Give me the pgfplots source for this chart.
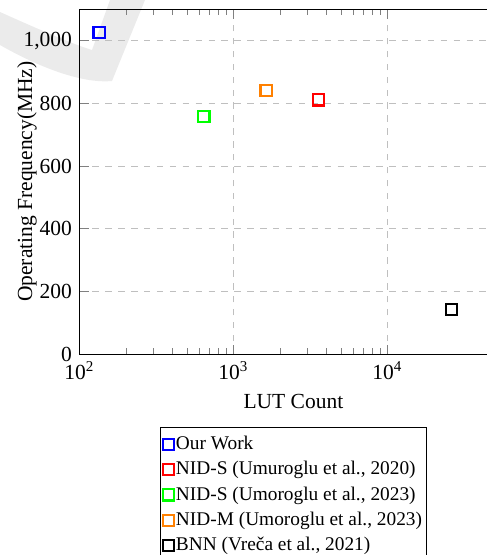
\documentclass[border=0pt]{standalone}
\usepackage{fontspec}
\setmainfont{Liberation Serif}
\usepackage{pgfplots}
\pgfplotsset{compat=1.18}
\begin{document}
\begin{tikzpicture}
% watermark, in image pixels (axis box lower left = origin)
\begin{scope}[x=0.4651pt, y=-0.4651pt, shift={(-79.5,-354)}]
\fill[black!8] (0,12) .. controls (40,30) and (75,45) .. (92,50)
  -- (110,0) -- (145,0) -- (112,81)
  .. controls (80,84) and (35,65) .. (0,45) -- cycle;
\end{scope}
\begin{axis}[
    scale only axis, width=199pt, height=160.3pt,
    xmode=log, xmin=100, xmax=60000, ymin=0, ymax=1100,
    xtick={100,1000,10000},
    xticklabels={10\textsuperscript{2},10\textsuperscript{3},10\textsuperscript{4}},
    ytick={0,200,400,600,800,1000},
    yticklabels={0,200,400,600,800,{1,000}},
    grid=major, major grid style={dashed, gray!50},
    xlabel={LUT Count},
    ylabel={Operating Frequency(MHz)},
    ylabel style={at={(axis description cs:-0.1227,0.5)}, anchor=center},
    legend style={at={(0.5,-0.212)}, anchor=north, cells={anchor=west},
      legend cell align=left, draw=black, font=\small,
      inner xsep=1pt, nodes={inner xsep=1pt}},
    every axis plot/.append style={only marks, mark=square, mark size=2.6pt, line width=1pt},
]
\addplot[blue] coordinates {(134,1027)};
\addlegendentry{Our Work}
\addplot[red] coordinates {(3556,811)};
\addlegendentry{NID-S (Umuroglu et al., 2020)}
\addplot[green] coordinates {(643,759)};
\addlegendentry{NID-S (Umoroglu et al., 2023)}
\addplot[orange] coordinates {(1626,840)};
\addlegendentry{NID-M (Umoroglu et al., 2023)}
\addplot[black] coordinates {(26100,143)};
\addlegendentry{BNN (Vreča et al., 2021)}
\end{axis}
\begin{scope}[x=0.4651pt, y=-0.4651pt, shift={(-79.5,-354)}]
\pgfresetboundingbox
\path[use as bounding box] (0,0) rectangle (486,555);
\end{scope}
\end{tikzpicture}
\end{document}
